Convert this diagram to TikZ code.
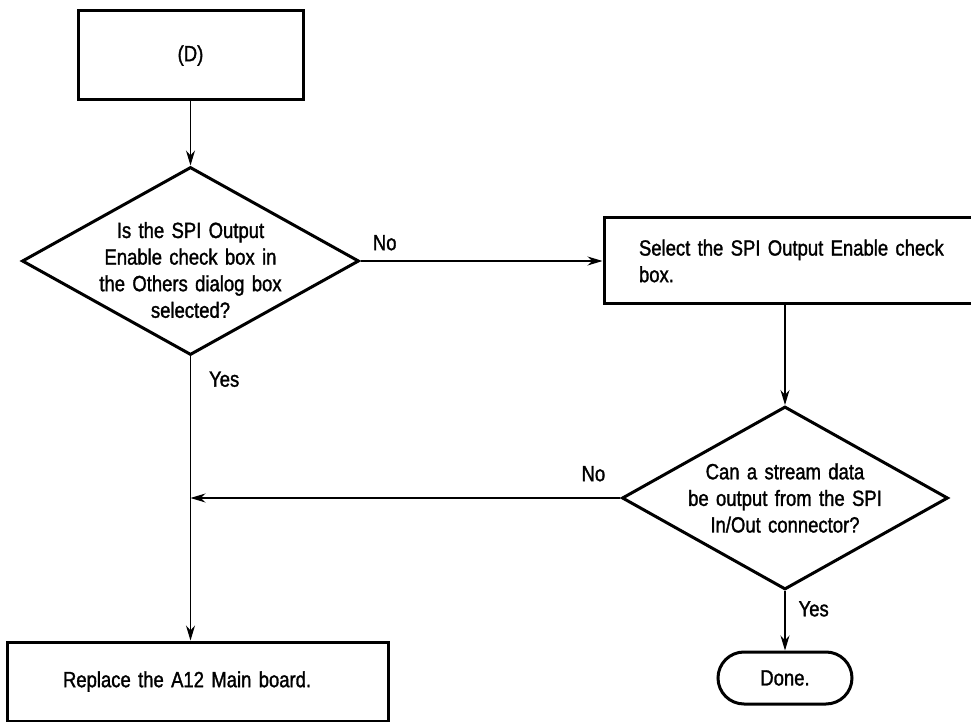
\documentclass[tikz,border=0pt]{standalone}
\usepackage{fontspec}
\setmainfont{Liberation Sans}[FakeStretch=0.84,FakeBold=1.4,WordSpace=0.85]
\usetikzlibrary{arrows.meta,positioning,shapes.geometric}
\newcommand{\flowfont}{\fontsize{11}{13.3}\selectfont}

\begin{document}
\begin{tikzpicture}[x=0.5pt,y=-0.5pt,
  node distance=32pt and 121pt,
  box/.style={draw,line width=1.5pt,inner sep=0pt,font=\flowfont},
  query/.style={diamond,draw,line width=1.5pt,aspect=1.8,inner sep=-14pt,align=center,text width=112pt,font=\flowfont},
  endbox/.style={draw,line width=1.5pt,rounded corners=13pt,minimum width=67pt,minimum height=26pt,font=\flowfont},
  lbl/.style={font=\flowfont,inner sep=2pt},
  >={Stealth[length=7.5pt,width=4.5pt]}, line width=0.6pt]

\useasboundingbox (0,0) rectangle (971,722);

\node[box,minimum width=112.5pt,minimum height=44.5pt] (start) at (190.5,55.5) {(D)};
\node[query,minimum width=168.5pt,minimum height=94pt,text height=17pt,below=of start] (spi)
  {Is the SPI Output\\Enable check box in\\the Others dialog box\\selected?};
\node[box,align=left,text width=160pt,inner xsep=17.5pt,minimum height=43pt,right=of spi] (select)
  {Select the SPI Output Enable check box.};
\node[query,inner sep=-4pt,minimum width=163pt,minimum height=91.5pt] (stream) at (785,498)
  {Can a stream data\\be output from the SPI\\In/Out connector?};
\node[box,align=left,text width=134.5pt,inner xsep=28pt,minimum height=39.5pt] (replace) at (197.5,681.5)
  {Replace the A12 Main board.};
\node[endbox] (done) at (785,678) {Done.};

\coordinate (merge) at (spi.south |- stream.west);

\draw[->] (start)--(spi);
\draw[->] (spi)-- node[lbl,above,pos=0.1,yshift=3pt]{No} (select);
\draw[->] (stream.north |- select.south)--(stream);
\draw[->] (spi.south)-- node[lbl,right,pos=0.08,xshift=7pt]{Yes} (spi.south |- replace.north);
\draw[->] (stream)-- node[lbl,above,pos=0.063,yshift=6pt]{No} (merge);
\draw[->] (stream)-- node[lbl,right,pos=0.3,xshift=4.5pt]{Yes} (done);
\end{tikzpicture}
\end{document}
